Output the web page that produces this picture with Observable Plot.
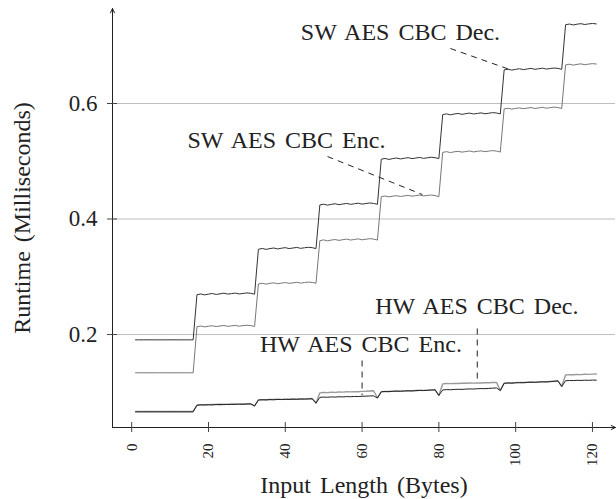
<!DOCTYPE html>
<html>
<head>
<meta charset="utf-8">
<script src="https://cdn.jsdelivr.net/npm/d3@7"></script>
<script src="https://cdn.jsdelivr.net/npm/@observablehq/plot@0.6"></script>
<style>
  html, body { margin: 0; padding: 0; background: #fff; }
  svg text { font-family: 'Liberation Serif', 'Times New Roman', serif; }
</style>
</head>
<body>
<div id="chart"></div>
<script>
// ---- data ----
const bytes = d3.range(1, 122); // input length 1..121

const swDec = [
  0.1908,0.1908,0.1908,0.1908,0.1908,0.1908,0.1908,0.1908,0.1908,0.1908,0.1908,0.1908,0.1908,0.1908,0.1908,0.1908,
  0.2690,0.2702,0.2686,0.2700,0.2710,0.2694,0.2704,0.2716,0.2700,0.2708,0.2718,0.2702,0.2712,0.2720,0.2714,0.2698,
  0.3476,0.3490,0.3474,0.3488,0.3498,0.3482,0.3494,0.3504,0.3488,0.3498,0.3508,0.3492,0.3502,0.3510,0.3504,0.3488,
  0.4244,0.4256,0.4240,0.4254,0.4264,0.4248,0.4260,0.4270,0.4254,0.4264,0.4274,0.4258,0.4268,0.4278,0.4270,0.4254,
  0.5036,0.5048,0.5032,0.5046,0.5056,0.5040,0.5052,0.5062,0.5046,0.5056,0.5066,0.5050,0.5060,0.5070,0.5062,0.5046,
  0.5808,0.5820,0.5804,0.5818,0.5828,0.5812,0.5824,0.5834,0.5818,0.5828,0.5838,0.5822,0.5832,0.5842,0.5836,0.5820,
  0.6582,0.6594,0.6578,0.6592,0.6602,0.6586,0.6598,0.6608,0.6592,0.6602,0.6612,0.6596,0.6606,0.6614,0.6608,0.6592,
  0.7364,0.7376,0.7360,0.7374,0.7382,0.7368,0.7378,0.7386,0.7378
];

const swEnc = [
  0.1337,0.1337,0.1337,0.1337,0.1337,0.1337,0.1337,0.1337,0.1337,0.1337,0.1337,0.1337,0.1337,0.1337,0.1337,0.1337,
  0.2136,0.2146,0.2132,0.2144,0.2152,0.2138,0.2148,0.2156,0.2142,0.2150,0.2158,0.2144,0.2154,0.2160,0.2154,0.2140,
  0.2876,0.2888,0.2872,0.2886,0.2894,0.2880,0.2890,0.2900,0.2886,0.2894,0.2904,0.2890,0.2900,0.2908,0.2902,0.2888,
  0.3626,0.3638,0.3622,0.3636,0.3644,0.3630,0.3642,0.3652,0.3636,0.3646,0.3656,0.3640,0.3650,0.3660,0.3652,0.3636,
  0.4388,0.4398,0.4384,0.4396,0.4404,0.4390,0.4400,0.4410,0.4396,0.4404,0.4414,0.4400,0.4408,0.4416,0.4406,0.4386,
  0.5154,0.5166,0.5150,0.5164,0.5172,0.5158,0.5168,0.5178,0.5162,0.5172,0.5180,0.5166,0.5176,0.5184,0.5176,0.5160,
  0.5906,0.5918,0.5902,0.5916,0.5924,0.5910,0.5920,0.5930,0.5914,0.5924,0.5934,0.5918,0.5928,0.5938,0.5930,0.5914,
  0.6668,0.6680,0.6664,0.6678,0.6686,0.6672,0.6682,0.6690,0.6684
];

const hwDec = [
  0.0661,0.0661,0.0661,0.0661,0.0661,0.0661,0.0661,0.0661,0.0661,0.0661,0.0661,0.0661,0.0661,0.0661,0.0661,0.0661,
  0.0775,0.0782,0.0780,0.0785,0.0781,0.0788,0.0786,0.0790,0.0787,0.0792,0.0790,0.0795,0.0792,0.0797,0.0799,0.0762,
  0.0866,0.0870,0.0868,0.0873,0.0871,0.0876,0.0874,0.0878,0.0876,0.0880,0.0878,0.0882,0.0881,0.0885,0.0887,0.0812,
  0.0912,0.0916,0.0914,0.0919,0.0917,0.0922,0.0920,0.0925,0.0923,0.0928,0.0926,0.0931,0.0933,0.0936,0.0938,0.0900,
  0.1008,0.1013,0.1011,0.1016,0.1019,0.1017,0.1022,0.1025,0.1023,0.1028,0.1031,0.1029,0.1034,0.1038,0.1042,0.0945,
  0.1040,0.1046,0.1044,0.1049,0.1052,0.1050,0.1055,0.1058,0.1056,0.1061,0.1064,0.1062,0.1067,0.1071,0.1075,0.1030,
  0.1155,0.1160,0.1158,0.1164,0.1167,0.1165,0.1170,0.1174,0.1172,0.1177,0.1181,0.1179,0.1184,0.1190,0.1196,0.1100,
  0.1200,0.1204,0.1202,0.1207,0.1205,0.1209,0.1207,0.1211,0.1209
];

const hwEnc = [
  0.0668,0.0668,0.0668,0.0668,0.0668,0.0668,0.0668,0.0668,0.0668,0.0668,0.0668,0.0668,0.0668,0.0668,0.0668,0.0668,
  0.0778,0.0784,0.0786,0.0783,0.0789,0.0787,0.0792,0.0789,0.0794,0.0792,0.0797,0.0794,0.0799,0.0797,0.0801,0.0765,
  0.0868,0.0873,0.0871,0.0876,0.0874,0.0879,0.0877,0.0882,0.0880,0.0884,0.0882,0.0887,0.0885,0.0889,0.0891,0.0815,
  0.0990,0.0996,0.0994,0.1000,0.0998,0.1004,0.1002,0.1008,0.1006,0.1012,0.1010,0.1016,0.1018,0.1022,0.1026,0.0905,
  0.1011,0.1016,0.1014,0.1019,0.1022,0.1020,0.1025,0.1028,0.1026,0.1031,0.1034,0.1032,0.1037,0.1041,0.1045,0.0948,
  0.1146,0.1151,0.1149,0.1154,0.1152,0.1157,0.1155,0.1160,0.1158,0.1163,0.1161,0.1166,0.1164,0.1169,0.1172,0.1033,
  0.1158,0.1163,0.1161,0.1167,0.1170,0.1168,0.1173,0.1177,0.1175,0.1180,0.1184,0.1182,0.1187,0.1193,0.1199,0.1103,
  0.1300,0.1305,0.1303,0.1308,0.1306,0.1311,0.1309,0.1314,0.1316
];

const xTicks = [0, 20, 40, 60, 80, 100, 120];
const yTicks = [0.2, 0.4, 0.6];

// annotation labels: text, anchor position (x, y) and pointer start/end
const labelText = ["SW AES CBC Dec.", "SW AES CBC Enc.", "HW AES CBC Dec.", "HW AES CBC Enc."];
const labelX    = [70.0, 40.3, 89.9, 59.7];
const labelY    = [0.7102, 0.5238, 0.2359, 0.1694];
const ptrX1     = [83.0, 51.0, 90.0, 60.0];
const ptrY1     = [0.6952, 0.5082, 0.2104, 0.1550];
const ptrX2     = [98.4, 75.7, 90.0, 60.0];
const ptrY2     = [0.6590, 0.4424, 0.1170, 0.0950];

const xTitle = "Input Length (Bytes)";
const yTitle = "Runtime (Milliseconds)";

// ---- chart ----
const xDomain = [-5, 126];
const yDomain = [0.039, 0.7645];
const font = "'Liberation Serif', 'Times New Roman', serif";
const ink = "#222";

const labels = labelText.map((t, i) => ({t, x: labelX[i], y: labelY[i]}));
const ptrs = labelText.map((t, i) => ({x1: ptrX1[i], y1: ptrY1[i], x2: ptrX2[i], y2: ptrY2[i]}));

const chart = Plot.plot({
  width: 616,
  height: 499,
  marginLeft: 112,
  marginRight: 1,
  marginTop: 8,
  marginBottom: 72,
  style: {fontFamily: font, color: ink, background: "#fff", wordSpacing: "3px"},
  x: {domain: xDomain},
  y: {domain: yDomain},
  marks: [
    Plot.ruleY(yTicks, {stroke: "#bdbdbd", strokeWidth: 1}),
    Plot.lineY(hwEnc, {x: bytes, stroke: "#9a9a9a", strokeWidth: 1.4}),
    Plot.lineY(hwDec, {x: bytes, stroke: "#222", strokeWidth: 1}),
    Plot.lineY(swEnc, {x: bytes, stroke: "#777", strokeWidth: 1}),
    Plot.lineY(swDec, {x: bytes, stroke: "#333", strokeWidth: 1}),
    Plot.link(ptrs, {x1: "x1", y1: "y1", x2: "x2", y2: "y2", stroke: ink, strokeWidth: 1, strokeDasharray: "6,5"}),
    Plot.text(labels, {x: "x", y: "y", text: "t", fontSize: 24, fontFamily: font, fill: ink, textAnchor: "middle", lineAnchor: "bottom"}),
    Plot.arrow([0], {x1: xDomain[0], y1: yDomain[0], x2: xDomain[1], y2: yDomain[0], stroke: ink, strokeWidth: 1, headLength: 7, headAngle: 50}),
    Plot.arrow([0], {x1: xDomain[0], y1: yDomain[0], x2: xDomain[0], y2: yDomain[1], stroke: ink, strokeWidth: 1, headLength: 7, headAngle: 50}),
    Plot.axisY({ticks: yTicks, tickFormat: ".1f", tickSize: 10, dx: 5, tickPadding: 10, fontSize: 23, fontFamily: font, label: null, stroke: "#444", fill: ink}),
    Plot.axisX({ticks: xTicks, tickFormat: "d", tickSize: 10, dy: -5, tickPadding: 11, tickRotate: -90, fontSize: 15, fontFamily: font, label: null, stroke: "#444", fill: ink}),
    Plot.text([xTitle], {frameAnchor: "bottom", text: d => d, dy: 65, fontSize: 24, fontFamily: font, fill: ink, lineAnchor: "bottom"}),
    Plot.text([yTitle], {frameAnchor: "left", text: d => d, dx: -90, rotate: -90, fontSize: 24, fontFamily: font, fill: ink, textAnchor: "middle", lineAnchor: "middle"})
  ]
});

document.getElementById("chart").appendChild(chart);
</script>
</body>
</html>
